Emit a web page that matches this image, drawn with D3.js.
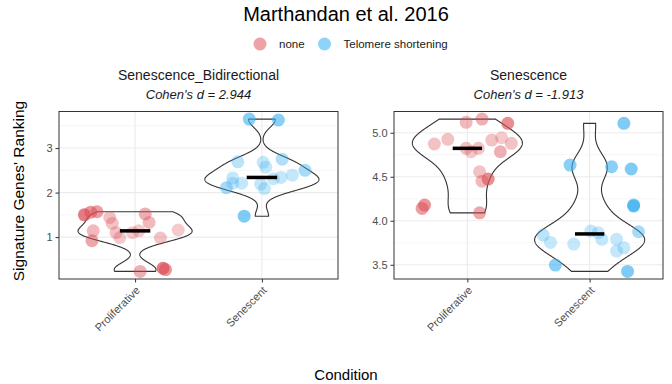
<!DOCTYPE html>
<html>
<head>
<meta charset="utf-8">
<script src="https://cdn.jsdelivr.net/npm/d3@7"></script>
<style>
body { margin: 0; background: #fff; }
text { font-family: "Liberation Sans", Arial, Helvetica, sans-serif; }
</style>
</head>
<body>
<div id="chart-area"></div>
<script>
// categories / labels
const conditions = ["Proliferative", "Senescent"]
const panelNames = ["Senescence_Bidirectional", "Senescence"]
const cohensD = ["2.944", "-1.913"]
const groups = ["none", "Telomere shortening"]
const bidirTicks = [1, 2, 3]
const senTicks = [3.5, 4.0, 4.5, 5.0]

// Senescence_Bidirectional, Proliferative
const biProY = [1.50, 1.56, 1.57, 1.44, 1.31, 1.14, 0.92, 1.10, 0.99, 1.10, 1.14, 1.52, 1.33, 0.98, 1.16, 0.23, 0.30, 0.27]
const biProJit = [-0.40, -0.35, -0.30, -0.20, -0.18, -0.33, -0.34, -0.15, -0.12, -0.02, 0.03, 0.08, 0.11, 0.20, 0.34, 0.04, 0.22, 0.24]
const biProAlpha = [0.75, 0.6, 0.55, 0.35, 0.35, 0.4, 0.5, 0.35, 0.3, 0.3, 0.3, 0.45, 0.4, 0.35, 0.3, 0.45, 0.75, 0.6]

// Senescence_Bidirectional, Senescent
const biSenY = [3.65, 3.63, 2.69, 2.68, 2.57, 2.75, 2.33, 2.21, 2.11, 2.21, 2.19, 2.09, 2.31, 2.34, 2.39, 2.50, 1.47]
const biSenJit = [-0.10, 0.13, -0.19, 0.01, 0.03, 0.16, -0.23, -0.16, -0.28, -0.23, -0.01, 0.02, 0.09, 0.15, 0.24, 0.34, -0.14]
const biSenAlpha = [0.6, 0.6, 0.35, 0.3, 0.3, 0.4, 0.3, 0.3, 0.45, 0.3, 0.3, 0.3, 0.3, 0.3, 0.3, 0.45, 0.65]

// Senescence, Proliferative
const seProY = [5.118, 5.155, 5.107, 4.872, 4.925, 4.823, 4.784, 4.823, 4.917, 4.943, 4.88, 4.784, 4.557, 4.45, 4.474, 4.178, 4.14, 4.09]
const seProJit = [-0.01, 0.12, 0.33, -0.27, -0.16, -0.01, 0.03, 0.09, 0.20, 0.28, 0.36, 0.27, 0.10, 0.12, 0.17, -0.35, -0.37, 0.10]
const seProAlpha = [0.4, 0.45, 0.65, 0.35, 0.35, 0.35, 0.3, 0.35, 0.35, 0.3, 0.35, 0.45, 0.35, 0.4, 0.65, 0.6, 0.55, 0.5]

// Senescence, Senescent
const seSenY = [5.107, 4.633, 4.614, 4.588, 4.167, 4.18, 3.875, 3.837, 3.754, 3.735, 3.883, 3.864, 3.789, 3.789, 3.693, 3.656, 3.497, 3.425]
const seSenJit = [0.28, -0.16, 0.18, 0.34, 0.36, 0.36, 0.40, -0.38, -0.32, -0.13, 0.01, 0.07, 0.10, 0.22, 0.28, 0.22, -0.28, 0.31]
const seSenAlpha = [0.65, 0.6, 0.6, 0.65, 0.7, 0.6, 0.45, 0.35, 0.3, 0.3, 0.3, 0.3, 0.3, 0.3, 0.3, 0.3, 0.6, 0.65]

const colors = {"none": "#DC5058", "Telomere shortening": "#3CAFF0"}
const legendColors = {"none": "#EEA2A6", "Telomere shortening": "#8DD3FA"}

const W = 672, H = 384
const panelTop = 111.5, panelBottom = 279

const svg = d3.select("#chart-area").append("svg")
    .attr("width", W)
    .attr("height", H)
    .attr("style", "background:#fff")

const mk = (ys, jit, alpha) => ys.map((v, i) => ({v, j: jit[i], a: alpha[i]}))

const panels = [
    {name: panelNames[0], d: cohensD[0], left: 59, right: 338, ticks: bidirTicks, fmt: d3.format("d"),
     sets: [mk(biProY, biProJit, biProAlpha), mk(biSenY, biSenJit, biSenAlpha)]},
    {name: panelNames[1], d: cohensD[1], left: 394, right: 663, ticks: senTicks, fmt: d3.format(".1f"),
     sets: [mk(seProY, seProJit, seProAlpha), mk(seSenY, seSenJit, seSenAlpha)]}
]

// gaussian kde with R's bw.nrd0
function nrd0(vals) {
    const s = vals.slice().sort(d3.ascending)
    const sd = d3.deviation(s)
    const iqr = d3.quantile(s, 0.75) - d3.quantile(s, 0.25)
    let lo = Math.min(sd, iqr / 1.34)
    if (!lo) lo = sd || 1
    return 0.9 * lo * Math.pow(s.length, -0.2)
}
function violinData(vals) {
    const bw = nrd0(vals)
    const [lo, hi] = d3.extent(vals)
    const n = 512
    const out = d3.range(n).map(k => {
        const t = lo + (hi - lo) * k / (n - 1)
        const dens = d3.mean(vals, v => Math.exp(-0.5 * ((t - v) / bw) ** 2)) / (bw * Math.sqrt(2 * Math.PI))
        return {t, dens}
    })
    const m = d3.max(out, o => o.dens)
    out.forEach(o => o.w = o.dens / m)
    return out
}

panels.forEach(p => {
    const g = svg.append("g")

    const x = d3.scalePoint()
        .domain(conditions)
        .range([p.left, p.right])
        .padding(0.6)
    const step = x.step()

    const allY = p.sets.flat().map(d => d.v)
    const [mn, mx] = d3.extent(allY)
    const pad = (mx - mn) * 0.05
    const y = d3.scaleLinear()
        .domain([mn - pad, mx + pad])
        .range([panelBottom, panelTop])

    // minor grid
    const minor = p.ticks.slice(0, -1).map((t, i) => (t + p.ticks[i + 1]) / 2)
    minor.push(p.ticks[0] - (p.ticks[1] - p.ticks[0]) / 2)
    minor.push(p.ticks[p.ticks.length - 1] + (p.ticks[1] - p.ticks[0]) / 2)
    g.selectAll(".minor").data(minor.filter(t => t > y.domain()[0] && t < y.domain()[1]))
        .enter().append("line")
        .attr("x1", p.left).attr("x2", p.right)
        .attr("y1", d => y(d)).attr("y2", d => y(d))
        .attr("stroke", "#F0F0F0").attr("stroke-width", 0.6)

    // major grid
    g.selectAll(".hmajor").data(p.ticks)
        .enter().append("line")
        .attr("x1", p.left).attr("x2", p.right)
        .attr("y1", d => y(d)).attr("y2", d => y(d))
        .attr("stroke", "#EBEBEB").attr("stroke-width", 1.1)
    g.selectAll(".vmajor").data(conditions)
        .enter().append("line")
        .attr("x1", d => x(d)).attr("x2", d => x(d))
        .attr("y1", panelTop).attr("y2", panelBottom)
        .attr("stroke", "#EBEBEB").attr("stroke-width", 1.1)

    p.sets.forEach((set, ci) => {
        const cx = x(conditions[ci])
        const vd = violinData(set.map(d => d.v))
        const area = d3.area()
            .x0(d => cx - d.w * 0.45 * step)
            .x1(d => cx + d.w * 0.45 * step)
            .y(d => y(d.t))
        g.append("path")
            .attr("d", area(vd))
            .attr("fill", "none")
            .attr("stroke", "#333")
            .attr("stroke-width", 1.1)
    })

    p.sets.forEach((set, ci) => {
        const cx = x(conditions[ci])
        g.selectAll(null).data(set)
            .enter().append("circle")
            .attr("cx", d => cx + d.j * step)
            .attr("cy", d => y(d.v))
            .attr("r", 6.5)
            .attr("fill", colors[groups[ci]])
            .attr("fill-opacity", d => d.a)
    })

    p.sets.forEach((set, ci) => {
        const cx = x(conditions[ci])
        const med = d3.median(set, d => d.v)
        g.append("line")
            .attr("x1", cx - 0.12 * step).attr("x2", cx + 0.12 * step)
            .attr("y1", y(med)).attr("y2", y(med))
            .attr("stroke", "#000").attr("stroke-width", 3.5)
    })

    // border
    g.append("rect")
        .attr("x", p.left).attr("y", panelTop)
        .attr("width", p.right - p.left).attr("height", panelBottom - panelTop)
        .attr("fill", "none").attr("stroke", "#333").attr("stroke-width", 1)

    // axes
    const yAxis = g.append("g")
        .attr("transform", `translate(${p.left}, 0)`)
        .call(d3.axisLeft(y).tickValues(p.ticks).tickSize(3.5).tickPadding(3).tickFormat(p.fmt))
    yAxis.select(".domain").remove()
    yAxis.selectAll("line").attr("stroke", "#333")
    yAxis.selectAll("text").attr("fill", "#4D4D4D").attr("font-size", "11px")
        .attr("font-family", "Liberation Sans, Arial, sans-serif")

    const xAxis = g.append("g")
        .attr("transform", `translate(0, ${panelBottom})`)
        .call(d3.axisBottom(x).tickSize(3.5))
    xAxis.select(".domain").remove()
    xAxis.selectAll("line").attr("stroke", "#333")
    xAxis.selectAll("text")
        .attr("fill", "#4D4D4D").attr("font-size", "11px")
        .attr("font-family", "Liberation Sans, Arial, sans-serif")
        .attr("y", 0).attr("x", 0).attr("dy", null)
        .attr("text-anchor", "end")
        .attr("transform", "translate(5, 12) rotate(-45)")

    // strip titles
    const mid = (p.left + p.right) / 2
    g.append("text")
        .attr("x", mid).attr("y", 80)
        .attr("text-anchor", "middle")
        .attr("font-size", "14px")
        .attr("fill", "#1A1A1A")
        .text(p.name)
    g.append("text")
        .attr("x", mid).attr("y", 99)
        .attr("text-anchor", "middle")
        .attr("font-size", "13px")
        .attr("font-style", "italic")
        .attr("fill", "#1A1A1A")
        .text(`Cohen's d = ${p.d}`)
})

// Title
svg.append("text")
    .attr("x", 346).attr("y", 21)
    .attr("text-anchor", "middle")
    .attr("font-size", "20px")
    .text("Marthandan et al. 2016")

// Legend
const legX = [260, 324.5]
groups.forEach((gName, i) => {
    svg.append("circle")
        .attr("cx", legX[i]).attr("cy", 44)
        .attr("r", 6.5)
        .attr("fill", legendColors[gName])
    svg.append("text")
        .attr("x", legX[i] + 19).attr("y", 48)
        .attr("font-size", "11.5px")
        .attr("fill", "#1A1A1A")
        .text(gName)
})

// Axis titles
svg.append("text")
    .attr("x", 346).attr("y", 380)
    .attr("text-anchor", "middle")
    .attr("font-size", "15px")
    .text("Condition")

svg.append("text")
    .attr("transform", "translate(24, 191) rotate(-90)")
    .attr("text-anchor", "middle")
    .attr("font-size", "15.5px")
    .text("Signature Genes' Ranking")
</script>
</body>
</html>
